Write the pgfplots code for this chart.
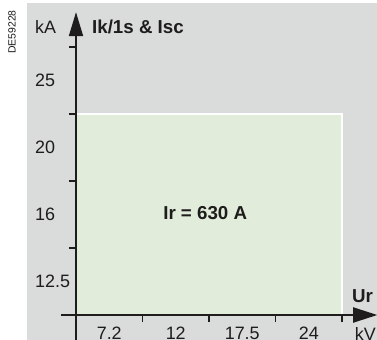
\documentclass[border=0pt]{standalone}
\usepackage{pgfplots}
\pgfplotsset{compat=1.18}
\usepackage{fontspec}
\setmainfont{Liberation Sans}
\usetikzlibrary{arrows.meta}
\definecolor{bg}{RGB}{218,219,219}
\definecolor{area}{RGB}{225,237,218}
\definecolor{ink}{RGB}{30,28,28}
\begin{document}
\begin{tikzpicture}
\path[use as bounding box] (-76bp,-25bp) rectangle (301bp,315bp);
\clip (-76bp,-25bp) rectangle (301bp,315bp);
\fill[white] (-76bp,-25bp) rectangle (301bp,315bp);
\fill[bg] (-49bp,-25bp) rectangle (301bp,312bp);
\node[rotate=90, inner sep=0pt, text=ink, font=\fontsize{10.5}{12}\selectfont] at (-64bp,283bp) {DE59228};
\begin{axis}[
  anchor=origin, at={(0,0)},
  x=66.5bp, y=67bp,
  xmin=-0.22, xmax=4.53, ymin=-0.45, ymax=4.52,
  axis lines=middle,
  axis on top,
  clip=false,
  axis line style={line width=1.8bp, draw=ink},
  x axis line style={-{Triangle[length=24bp,width=15bp]}},
  y axis line style={-{Triangle[length=24bp,width=14bp]}},
  xtick={0.5,1.5,2.5,3.5}, xticklabels={7.2,12,17.5,24},
  minor xtick={1,2,3,4},
  extra x ticks={4.35}, extra x tick labels={kV},
  ytick={0.5,1.5,2.5,3.5}, yticklabels={12.5,16,20,25},
  minor ytick={1,2,3,4},
  extra y ticks={4.3}, extra y tick labels={kA},
  major tick length=0pt, minor tick length=7bp,
  tick align=outside,
  tick style={line width=1.2bp, draw=ink},
  xticklabel style={anchor=north, inner sep=0pt, yshift=-12bp, text=ink, font=\fontsize{18}{20}\selectfont},
  yticklabel style={anchor=west, inner sep=0pt, xshift=-41bp, text=ink, font=\fontsize{18}{20}\selectfont},
]
\addplot[fill=area, draw=none] coordinates {(0,3) (1,3) (2,3) (3,3) (4,3)} \closedcycle;
\addplot[white, line width=2bp] coordinates {(0,3) (4,3) (4,0)};
\node[anchor=west, inner sep=0pt, text=ink, font=\bfseries\fontsize{18.8}{21}\selectfont] at (axis cs:0.24,4.3) {Ik/1s \& Isc};
\node[anchor=west, inner sep=0pt, text=ink, font=\bfseries\fontsize{18.8}{21}\selectfont] at (axis cs:1.31,1.52) {Ir = 630 A};
\node[anchor=west, inner sep=0pt, text=ink, font=\bfseries\fontsize{18.8}{21}\selectfont] at (axis cs:4.15,0.28) {Ur};
\end{axis}
\end{tikzpicture}
\end{document}
